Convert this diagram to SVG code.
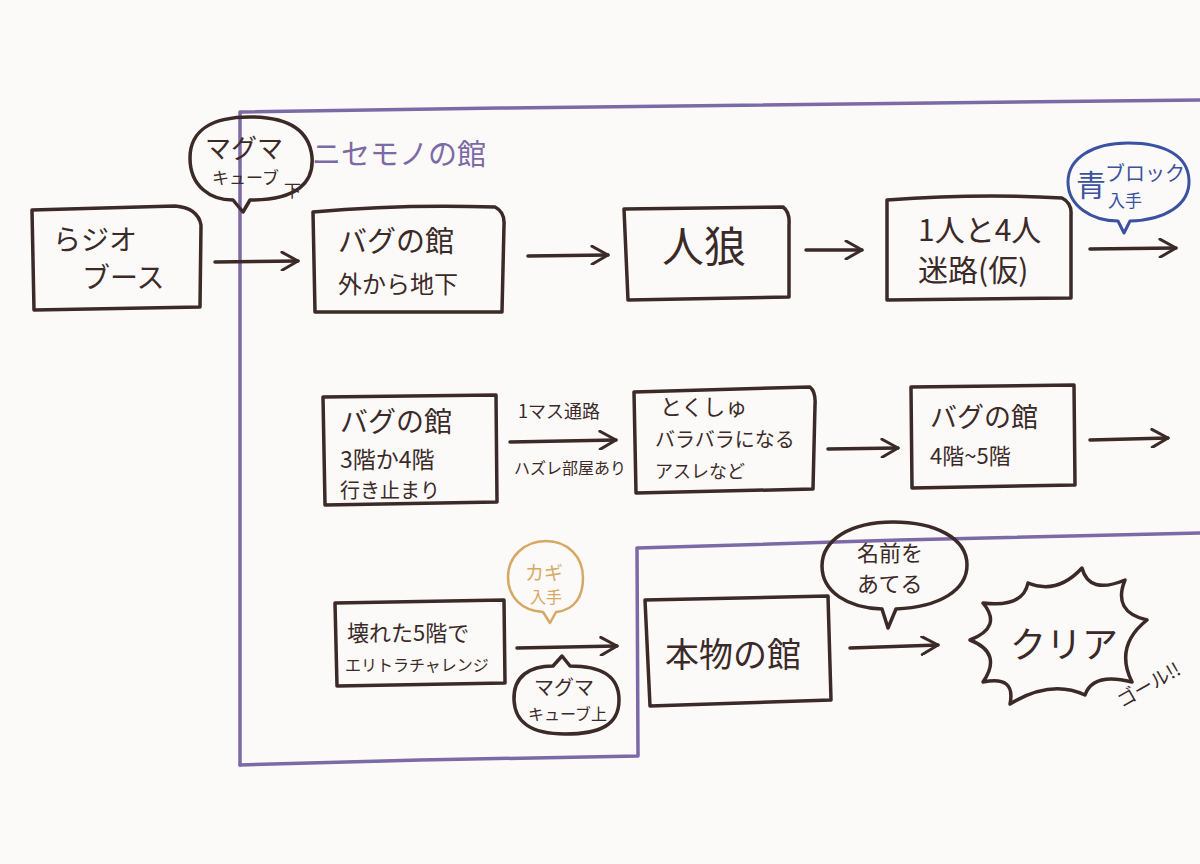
<svg xmlns="http://www.w3.org/2000/svg" width="1200" height="864" viewBox="0 0 1200 864">
<defs>
<style>
.ink{fill:none;stroke:#3b2a28;stroke-width:3.5;stroke-linecap:round;stroke-linejoin:round}
.frame{fill:none;stroke:#7c6aa6;stroke-width:3.5;stroke-linecap:round;stroke-linejoin:round}
.t{font-family:"Noto Sans CJK JP","Noto Sans",sans-serif;fill:#3b2a28}
.pt{font-family:"Noto Sans CJK JP","Noto Sans",sans-serif;fill:#7c6aa6}
.bt{font-family:"Noto Sans CJK JP","Noto Sans",sans-serif;fill:#3a52a0}
.ot{font-family:"Noto Sans CJK JP","Noto Sans",sans-serif;fill:#d6a865}
</style>
<marker id="ah" viewBox="0 0 20 20" refX="18" refY="10" markerWidth="20" markerHeight="20" markerUnits="userSpaceOnUse" orient="auto">
<path d="M2,1 L18,10 L2,19" fill="none" stroke="#3b2a28" stroke-width="3" stroke-linecap="round" stroke-linejoin="round"/>
</marker>
</defs>
<rect width="1200" height="864" fill="#fcfaf8"/>

<g id="frame">
<path class="frame" d="M240,765 L240,112 L500,108 L1200,100"/>
<path class="frame" d="M240,765 L420,760 L638,756 L637,548 L900,540 L1200,533"/>
<text class="pt" x="312" y="165" font-size="29">ニセモノの館</text>
</g>

<g id="connectors">
<line class="ink" x1="215" y1="262" x2="298" y2="261" marker-end="url(#ah)"/>
<line class="ink" x1="528" y1="256" x2="608" y2="255" marker-end="url(#ah)"/>
<line class="ink" x1="806" y1="250" x2="862" y2="250" marker-end="url(#ah)"/>
<line class="ink" x1="1090" y1="249" x2="1176" y2="248" marker-end="url(#ah)"/>
<line class="ink" x1="510" y1="442" x2="616" y2="440" marker-end="url(#ah)"/>
<line class="ink" x1="828" y1="449" x2="898" y2="448" marker-end="url(#ah)"/>
<line class="ink" x1="1090" y1="440" x2="1168" y2="438" marker-end="url(#ah)"/>
<line class="ink" x1="517" y1="648" x2="617" y2="646" marker-end="url(#ah)"/>
<line class="ink" x1="850" y1="648" x2="938" y2="645" marker-end="url(#ah)"/>
<text class="t" x="518" y="418" font-size="18">1マス通路</text>
<text class="t" x="514" y="474" font-size="16">ハズレ部屋あり</text>
</g>

<g id="radio">
<path class="ink" d="M32,210 L175,206 Q198,208 201,225 L200,307 L34,310 Z"/>
<text class="t" x="53" y="250" font-size="28">らジオ</text>
<text class="t" x="82" y="288" font-size="28">ブース</text>
</g>

<g id="bubble-magma-down">
<path class="ink" d="M250,200 C298,200 314,182 312,157 C309,127 283,117 250,117 C214,117 190,129 190,158 C190,186 210,200 233,200 L243,212 L250,200 Z"/>
<text class="t" x="205" y="158" font-size="26">マグマ</text>
<text class="t" x="212" y="184" font-size="17">キューブ</text>
<text class="t" x="284" y="197" font-size="17">下</text>
</g>

<g id="bug-outside">
<path class="ink" d="M313,212 Q400,204 495,207 Q505,212 504,225 L502,312 L315,312 Z"/>
<text class="t" x="338" y="252" font-size="29">バグの館</text>
<text class="t" x="338" y="293" font-size="24">外から地下</text>
</g>

<g id="jinrou">
<path class="ink" d="M624,209 L783,207 Q790,212 789,225 L789,297 L628,300 Z"/>
<text class="t" x="662" y="262" font-size="42">人狼</text>
</g>

<g id="maze">
<path class="ink" d="M887,200 Q980,193 1062,198 Q1072,203 1071,215 L1071,298 L887,300 Z"/>
<text class="t" x="918" y="241" font-size="30">1人と4人</text>
<text class="t" x="918" y="281" font-size="30">迷路(仮)</text>
</g>

<g id="bubble-blue">
<path d="M1130,221 C1165,220 1190,205 1189,180 C1188,156 1165,143 1128,143 C1093,143 1068,158 1068,182 C1068,206 1092,221 1118,221 L1124,233 L1130,221 Z" fill="none" stroke="#3a52a0" stroke-width="3" stroke-linejoin="round"/>
<text class="bt" x="1076" y="196" font-size="30">青</text>
<text class="bt" x="1105" y="181" font-size="20">ブロック</text>
<text class="bt" x="1108" y="207" font-size="17">入手</text>
</g>

<g id="bug-34">
<path class="ink" d="M323,397 L496,395 L497,502 L325,505 Z"/>
<text class="t" x="340" y="432" font-size="28">バグの館</text>
<text class="t" x="340" y="468" font-size="23">3階か4階</text>
<text class="t" x="340" y="498" font-size="20">行き止まり</text>
</g>

<g id="special">
<path class="ink" d="M634,392 L810,387 Q816,392 815,405 L813,489 L636,493 Z"/>
<text class="t" x="660" y="415" font-size="22">とくしゅ</text>
<text class="t" x="655" y="447" font-size="20">バラバラになる</text>
<text class="t" x="655" y="478" font-size="18">アスレなど</text>
</g>

<g id="bug-45">
<path class="ink" d="M911,387 L1074,385 L1075,485 L912,488 Z"/>
<text class="t" x="930" y="427" font-size="27">バグの館</text>
<text class="t" x="930" y="464" font-size="22">4階~5階</text>
</g>

<g id="broken5">
<path class="ink" d="M335,603 L504,600 L505,683 L337,686 Z"/>
<text class="t" x="347" y="641" font-size="22">壊れた5階で</text>
<text class="t" x="345" y="671" font-size="16">エリトラチャレンジ</text>
</g>

<g id="bubble-key">
<path d="M556,612 C576,610 583,595 583,578 C583,557 568,541 546,541 C524,541 508,557 508,577 C508,597 522,611 543,612 L550,623 L556,612 Z" fill="none" stroke="#d6a865" stroke-width="2.5" stroke-linejoin="round"/>
<text class="ot" x="525" y="580" font-size="19">カギ</text>
<text class="ot" x="530" y="603" font-size="16">入手</text>
</g>

<g id="bubble-magma-up">
<path class="ink" d="M553,666 C530,666 513,676 514,700 C515,722 530,734 565,734 C600,734 619,725 619,700 C619,675 600,666 570,666 L562,656 Z"/>
<text class="t" x="534" y="695" font-size="20">マグマ</text>
<text class="t" x="528" y="720" font-size="16">キューブ上</text>
</g>

<g id="real">
<path class="ink" d="M645,600 L828,596 L831,700 L650,706 Z"/>
<text class="t" x="665" y="667" font-size="34">本物の館</text>
</g>

<g id="bubble-name">
<path class="ink" d="M896,609 C940,607 967,590 967,565 C967,538 935,522 893,522 C850,522 822,540 822,566 C822,592 848,608 882,609 L888,628 L896,609 Z"/>
<text class="t" x="857" y="561" font-size="22">名前を</text>
<text class="t" x="857" y="592" font-size="22">あてる</text>
</g>

<g id="clear">
<path class="ink" d="M1082,568 Q1089,595 1125,580 Q1112,612 1147,620 Q1114,646 1132,682 Q1093,672 1085,695 Q1051,679 1010,704 Q1016,675 983,682 Q1003,653 970,640 Q1003,627 983,603 Q1023,608 1028,583 Q1057,595 1082,568 Z"/>
<text class="t" x="1010" y="658" font-size="36">クリア</text>
<text class="t" x="0" y="0" font-size="19" transform="translate(1122,708) rotate(-30)">ゴール!!</text>
</g>
</svg>
